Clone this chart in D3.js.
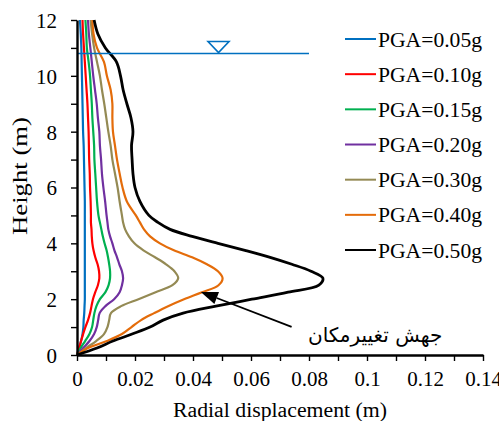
<!DOCTYPE html>
<html>
<head>
<meta charset="utf-8">
<script src="https://cdn.jsdelivr.net/npm/d3@7"></script>
<style>
  html, body { margin: 0; padding: 0; background: #fff; }
  svg { display: block; }
  .serif { font-family: "Liberation Serif", "Times New Roman", "DejaVu Serif", serif; }
</style>
</head>
<body>
<svg id="chart" width="499" height="421"></svg>
<script>
// ---------------- data ----------------
const heights = [0, 0.25, 0.5, 0.75, 1, 1.25, 1.5, 1.75, 2, 2.25, 2.5, 2.75, 3, 3.25, 3.5, 3.75, 4, 4.25, 4.5, 4.75, 5, 5.5, 6, 6.5, 7, 7.5, 8, 8.5, 9, 9.5, 10, 10.5, 11, 11.5, 12];

const pga005 = [0, 0.0007, 0.0014, 0.0019, 0.0022, 0.0023, 0.0025, 0.0026, 0.0027, 0.0027, 0.0027, 0.0027, 0.0027, 0.0027, 0.0027, 0.0027, 0.0027, 0.0027, 0.0027, 0.0027, 0.0027, 0.0027, 0.0026, 0.0025, 0.0024, 0.0023, 0.0021, 0.0020, 0.0019, 0.0018, 0.0017, 0.0016, 0.0015, 0.0013, 0.0010];
const pga010 = [0, 0.0007, 0.0014, 0.0021, 0.0029, 0.0038, 0.0045, 0.0050, 0.0055, 0.0063, 0.0072, 0.0077, 0.0076, 0.0071, 0.0063, 0.0057, 0.0053, 0.0051, 0.0050, 0.0048, 0.0048, 0.0047, 0.0045, 0.0044, 0.0042, 0.0041, 0.0040, 0.0038, 0.0036, 0.0033, 0.0030, 0.0027, 0.0024, 0.0021, 0.0019];
const pga015 = [0, 0.0012, 0.0028, 0.0043, 0.0052, 0.0056, 0.0060, 0.0067, 0.0079, 0.0098, 0.0109, 0.0114, 0.0114, 0.0111, 0.0107, 0.0102, 0.0095, 0.0089, 0.0084, 0.0079, 0.0074, 0.0069, 0.0066, 0.0063, 0.0060, 0.0059, 0.0056, 0.0053, 0.0051, 0.0048, 0.0045, 0.0040, 0.0034, 0.0032, 0.0029];
const pga020 = [0, 0.0021, 0.0043, 0.0059, 0.0068, 0.0073, 0.0078, 0.0098, 0.0128, 0.0147, 0.0155, 0.0159, 0.0155, 0.0146, 0.0138, 0.0129, 0.0122, 0.0114, 0.0108, 0.0105, 0.0102, 0.0097, 0.0091, 0.0086, 0.0083, 0.0079, 0.0077, 0.0072, 0.0068, 0.0062, 0.0056, 0.0051, 0.0046, 0.0041, 0.0038];
const pga030 = [0, 0.0031, 0.0066, 0.0093, 0.0105, 0.0111, 0.0117, 0.0152, 0.0212, 0.0271, 0.0329, 0.0349, 0.0336, 0.0307, 0.0269, 0.0229, 0.0198, 0.0179, 0.0166, 0.0159, 0.0155, 0.0147, 0.0140, 0.0131, 0.0122, 0.0116, 0.0108, 0.0101, 0.0094, 0.0086, 0.0079, 0.0069, 0.0059, 0.0052, 0.0047];
const pga040 = [0, 0.0038, 0.0103, 0.0155, 0.0188, 0.0221, 0.0266, 0.0314, 0.0369, 0.0431, 0.0488, 0.0502, 0.0486, 0.0448, 0.0397, 0.0334, 0.0286, 0.0252, 0.0231, 0.0217, 0.0203, 0.0172, 0.0157, 0.0147, 0.0138, 0.0131, 0.0124, 0.0122, 0.0122, 0.0116, 0.0103, 0.0093, 0.0069, 0.0057, 0.0053];
const pga050 = [0, 0.0069, 0.0124, 0.0190, 0.0252, 0.0297, 0.0366, 0.0479, 0.0603, 0.0728, 0.0834, 0.0848, 0.0807, 0.0741, 0.0666, 0.0579, 0.0486, 0.0397, 0.0321, 0.0279, 0.0248, 0.0217, 0.0200, 0.0193, 0.0190, 0.0188, 0.0193, 0.0186, 0.0172, 0.0159, 0.0150, 0.0136, 0.0098, 0.0072, 0.0059];

const seriesNames = ["PGA=0.05g", "PGA=0.10g", "PGA=0.15g", "PGA=0.20g", "PGA=0.30g", "PGA=0.40g", "PGA=0.50g"];
const seriesValues = [pga005, pga010, pga015, pga020, pga030, pga040, pga050];
const seriesColors = ["#0070C0", "#FF0000", "#00B050", "#7030A0", "#948A54", "#E46C0A", "#000000"];

const xTicks = [0, 0.01, 0.02, 0.03, 0.04, 0.05, 0.06, 0.07, 0.08, 0.09, 0.1, 0.11, 0.12, 0.13, 0.14];
const yTicks = [0, 1, 2, 3, 4, 5, 6, 7, 8, 9, 10, 11, 12];

const waterLevel = 10.8;      // m
const waterExtent = [0, 0.08]; // m
const waterMarkerX = 0.0488;

const annotationText = "جهش تغییرمکان";
const arrowFrom = [0.074, 1.01];
const arrowTo = [0.0427, 2.26];
const annotationPos = [0.1028, 0.45];

const xTitle = "Radial displacement (m)";
const yTitle = "Height (m)";

// ---------------- chart ----------------
const svg = d3.select("#chart");
const x = d3.scaleLinear().domain([0, 0.14]).range([77, 483]);
const y = d3.scaleLinear().domain([0, 12]).range([355, 20]);
const serif = "Liberation Serif";

// curves
const line = d3.line()
  .x(d => x(d[0]))
  .y(d => y(d[1]))
  .curve(d3.curveCatmullRom.alpha(0.5));

seriesValues.forEach((vals, i) => {
  const pts = vals.map((v, j) => [v, heights[j]]);
  svg.append("path")
    .datum(pts)
    .attr("d", line)
    .attr("fill", "none")
    .attr("stroke", seriesColors[i])
    .attr("stroke-width", i === 6 ? 2.8 : 2.2)
    .attr("stroke-linejoin", "round");
});

// water table
svg.append("line")
  .attr("x1", x(waterExtent[0])).attr("x2", x(waterExtent[1]))
  .attr("y1", y(waterLevel)).attr("y2", y(waterLevel))
  .attr("stroke", "#0070C0").attr("stroke-width", 1.6);
const wx = x(waterMarkerX), wy = y(waterLevel);
svg.append("path")
  .attr("d", `M${wx - 10.5},${wy - 12} L${wx + 10.5},${wy - 12} L${wx},${wy - 1} Z`)
  .attr("fill", "#fff").attr("stroke", "#0070C0").attr("stroke-width", 1.6);

// axes
const xAxis = d3.axisBottom(x)
  .tickValues(xTicks)
  .tickSize(6).tickSizeOuter(0)
  .tickPadding(10)
  .tickFormat((d, i) => i % 2 === 0 ? String(+d.toFixed(2)) : "");
const gx = svg.append("g").attr("transform", `translate(0,${y(0)})`).call(xAxis);

const yAxis = d3.axisLeft(y)
  .tickValues(yTicks)
  .tickSize(6).tickSizeOuter(0)
  .tickPadding(14)
  .tickFormat((d, i) => d % 2 === 0 ? String(d) : "");
const gy = svg.append("g").attr("transform", `translate(${x(0)},0)`).call(yAxis);

[gx, gy].forEach(g => {
  g.attr("font-family", null).attr("font-size", null);
  g.select(".domain").attr("stroke", "#000").attr("stroke-width", 2.4);
  g.selectAll(".tick line").attr("stroke", "#000").attr("stroke-width", 1.4);
  g.selectAll(".tick text").attr("fill", "#000")
    .attr("class", "serif")
    .attr("font-family", serif).attr("font-size", 21);
});
gy.selectAll(".tick text").attr("dy", "0.35em");

// axis titles
svg.append("text")
  .attr("class", "serif")
  .attr("x", (x(0) + x(0.14)) / 2).attr("y", 417)
  .attr("text-anchor", "middle")
  .attr("textLength", 214).attr("lengthAdjust", "spacingAndGlyphs")
  .attr("font-size", 20)
  .text(xTitle);
svg.append("text")
  .attr("class", "serif")
  .attr("transform", "translate(27,176) rotate(-90)")
  .attr("text-anchor", "middle")
  .attr("textLength", 118).attr("lengthAdjust", "spacingAndGlyphs")
  .attr("font-size", 20)
  .text(yTitle);

// legend
const legend = svg.append("g");
seriesNames.forEach((name, i) => {
  const ly = 39 + i * 35.17;
  legend.append("line")
    .attr("x1", 345).attr("x2", 376).attr("y1", ly).attr("y2", ly)
    .attr("stroke", seriesColors[i]).attr("stroke-width", 2);
  legend.append("text")
    .attr("class", "serif")
    .attr("x", 378).attr("y", ly + 7.5)
    .attr("textLength", 104).attr("lengthAdjust", "spacingAndGlyphs")
    .attr("font-size", 20)
    .text(name);
});

// annotation arrow
const ax1 = x(arrowFrom[0]), ay1 = y(arrowFrom[1]);
const ax2 = x(arrowTo[0]), ay2 = y(arrowTo[1]);
const ang = Math.atan2(ay2 - ay1, ax2 - ax1);
const headLen = 17, headHalf = 6.5;
const bx = ax2 - headLen * Math.cos(ang), by = ay2 - headLen * Math.sin(ang);
svg.append("line")
  .attr("x1", ax1).attr("y1", ay1).attr("x2", bx).attr("y2", by)
  .attr("stroke", "#000").attr("stroke-width", 1.8);
svg.append("path")
  .attr("d", `M${ax2},${ay2} L${bx + headHalf * Math.sin(ang)},${by - headHalf * Math.cos(ang)} L${bx - headHalf * Math.sin(ang)},${by + headHalf * Math.cos(ang)} Z`)
  .attr("fill", "#000");

svg.append("text")
  .attr("x", x(annotationPos[0])).attr("y", y(annotationPos[1]))
  .attr("text-anchor", "middle")
  .attr("font-family", "DejaVu Sans").attr("font-size", 20)
  .text(annotationText);
</script>
</body>
</html>
